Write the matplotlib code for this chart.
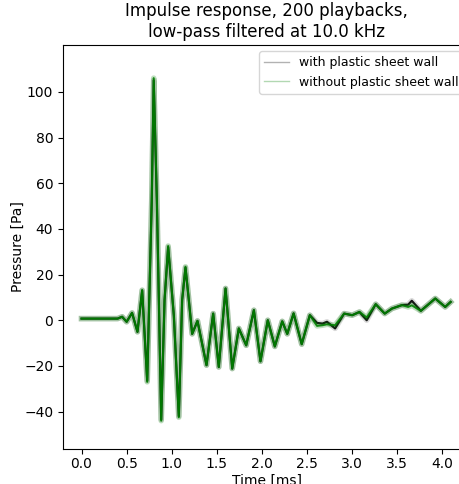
import matplotlib.pyplot as plt
from matplotlib.lines import Line2D

# time [ms] of the points
t_ms = [0.0, 0.40, 0.45, 0.50, 0.56, 0.62, 0.672, 0.728, 0.778, 0.80,
        0.835, 0.857, 0.883, 0.92, 0.96, 1.023, 1.078, 1.115, 1.152, 1.189,
        1.226, 1.285, 1.385, 1.459, 1.521, 1.596, 1.67, 1.743, 1.825, 1.91,
        1.983, 2.064, 2.142, 2.224, 2.28, 2.35, 2.44, 2.53, 2.61, 2.67,
        2.72, 2.81, 2.91, 3.0, 3.08, 3.16, 3.26, 3.36, 3.44, 3.55,
        3.62, 3.66, 3.76, 3.92, 4.03, 4.09]

# pressure [Pa], with plastic sheet wall
p_with = [0.7, 0.7, 1.5, -0.7, 3.2, -5.1, 13.0, -26.5, 52.0, 105.0,
          52.0, 8.8, -43.5, 8.8, 32.0, 2.0, -42.0, 8.8, 23.0, 8.8,
          -6.0, -0.3, -19.7, 2.9, -20.5, 13.9, -21.2, -3.6, -11.0, 4.4,
          -18.0, 0.0, -11.5, -0.5, -6.0, 3.0, -10.5, 2.2, -1.2, -1.5,
          -0.7, -3.6, 2.9, 2.2, 3.6, 0.0, 7.0, 2.9, 5.1, 6.6,
          6.8, 8.5, 4.1, 9.5, 5.8, 8.0]

# pressure [Pa], without plastic sheet wall
p_without = [0.7, 0.7, 1.5, -0.7, 3.2, -5.1, 13.2, -27.0, 52.6, 106.0,
             52.6, 8.8, -44.0, 8.8, 32.5, 2.0, -42.5, 8.8, 23.4, 8.8,
             -6.0, -0.3, -19.7, 2.9, -20.5, 13.9, -21.2, -3.6, -11.0, 4.4,
             -18.0, 0.0, -11.5, -0.5, -6.0, 3.0, -10.5, 2.2, -2.5, -2.2,
             -1.8, -2.2, 2.9, 2.2, 3.6, 1.2, 7.0, 2.9, 5.1, 6.6,
             5.8, 6.5, 4.1, 9.5, 5.8, 8.0]

fig = plt.figure(figsize=(4.59, 4.84), dpi=100)
ax = fig.add_axes([0.1373, 0.0723, 0.8867, 0.8347])

# wide faint line for the spread of the playbacks, thin line on top
ax.plot(t_ms, p_with, color="black", lw=4, alpha=0.15, solid_joinstyle="round")
ax.plot(t_ms, p_with, color="black", lw=1.6, alpha=0.9, solid_joinstyle="round")
ax.plot(t_ms, p_without, color="green", lw=4, alpha=0.25, solid_joinstyle="round")
ax.plot(t_ms, p_without, color="green", lw=1.4, alpha=0.9, solid_joinstyle="round")

ax.set_ylim(-56.4, 120.5)
ax.set_xlim(-0.205, 4.305)
ax.set_xticks([0.0, 0.5, 1.0, 1.5, 2.0, 2.5, 3.0, 3.5, 4.0])
ax.set_yticks([-40, -20, 0, 20, 40, 60, 80, 100])
ax.tick_params(axis="x", pad=2)
ax.set_xlabel("Time [ms]", labelpad=2)
ax.set_ylabel("Pressure [Pa]")
ax.yaxis.set_label_coords(-0.093, 0.5)
ax.set_title("Impulse response, 200 playbacks,\nlow-pass filtered at 10.0 kHz")

handles = [Line2D([], [], color="black", lw=1, alpha=0.3),
           Line2D([], [], color="green", lw=1, alpha=0.3)]
ax.legend(handles, ["with plastic sheet wall", "without plastic sheet wall"],
          loc="upper right", fontsize=9)

fig.savefig("out.png", dpi=100)
